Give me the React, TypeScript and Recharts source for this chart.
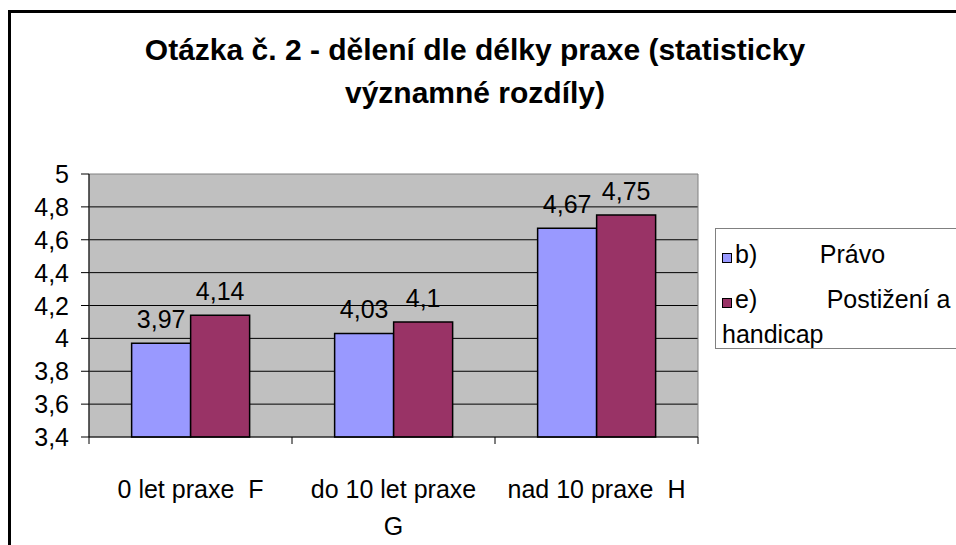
import React from "react"
import { Bar, BarChart, CartesianGrid, LabelList, ReferenceArea, XAxis, YAxis } from "recharts"

const categories = ["0 let praxe  F", "do 10 let praxe  G", "nad 10 praxe  H"]
const pravo = [3.97, 4.03, 4.67]
const postizeni = [4.14, 4.1, 4.75]
const yTicks = [3.4, 3.6, 3.8, 4, 4.2, 4.4, 4.6, 4.8, 5]
const gridValues = [3.6, 3.8, 4, 4.2, 4.4, 4.6, 4.8]
const titleLines = ["Otázka č. 2 - dělení dle délky praxe (statisticky", "významné rozdíly)"]

const series = [
  { key: "pravo", name: "b)         Právo", color: "#9999FF" },
  { key: "postizeni", name: "e)          Postižení a handicap", color: "#993366" },
]

const chartData = categories.map((name, i) => ({
  name,
  pravo: pravo[i],
  postizeni: postizeni[i],
}))

const W = 956
const H = 545
const MARGIN = { top: 174, right: 258, bottom: 0, left: 0 }
const Y_W = 89
const X_H = 108
const BAND = (W - MARGIN.left - MARGIN.right - Y_W) / categories.length
const FONT = "'Liberation Sans', Arial, sans-serif"

const fmt = (v: number) => String(v).replace(".", ",")

// split long labels onto two lines like the original
function wrap(label: string) {
  if (label.length <= 16) return [label]
  const cut = label.lastIndexOf(" ")
  return [label.slice(0, cut).trimEnd(), label.slice(cut + 1)]
}

function CategoryTick(props: any) {
  const { x, y, payload, index } = props
  const half = BAND / 2
  const lines = wrap(payload.value)
  return (
    <g>
      <line x1={x - half} y1={y} x2={x - half} y2={y + 7} stroke="#000" />
      {index === categories.length - 1 && <line x1={x + half} y1={y} x2={x + half} y2={y + 7} stroke="#000" />}
      <text x={x} y={y + 61} textAnchor="middle" fontSize={25} fontFamily={FONT} fill="#000" style={{ whiteSpace: "pre" }}>
        {lines.map((l, i) => (
          <tspan key={i} x={x} dy={i === 0 ? 0 : 37}>
            {l}
          </tspan>
        ))}
      </text>
    </g>
  )
}

function ValueTick(props: any) {
  const { x, y, payload } = props
  return (
    <text x={x} y={y + 9} textAnchor="end" fontSize={25} fontFamily={FONT} fill="#000">
      {fmt(payload.value)}
    </text>
  )
}

export default function App() {
  return (
    <div style={{ position: "fixed", left: 0, top: 0, width: W, height: H, background: "#fff", overflow: "hidden", fontFamily: FONT }}>
      <div style={{ position: "absolute", left: 8, top: 10, width: 1000, height: 600, borderLeft: "3px solid #000", borderTop: "3px solid #000" }} />
      <div style={{ position: "absolute", left: 0, top: 28, width: 950, textAlign: "center", fontWeight: "bold", fontSize: 30, lineHeight: "43px", color: "#000" }}>
        {titleLines.map((t) => (
          <div key={t}>{t}</div>
        ))}
      </div>
      <div style={{ position: "absolute", left: 0, top: 0 }}>
        <BarChart width={W} height={H} data={chartData} margin={MARGIN} barCategoryGap="21%" barGap={0}>
          <CartesianGrid horizontal vertical={false} horizontalValues={gridValues} stroke="#000" fill="#C0C0C0" fillOpacity={1} />
          <ReferenceArea x1={categories[0]} x2={categories[categories.length - 1]} y1={3.4} y2={5} fill="none" stroke="#808080" />
          <YAxis
            width={Y_W}
            domain={[3.4, 5]}
            ticks={yTicks}
            interval={0}
            tickSize={8}
            tickMargin={12}
            axisLine={{ stroke: "#000" }}
            tickLine={{ stroke: "#000" }}
            tick={<ValueTick />}
          />
          <XAxis
            dataKey="name"
            height={X_H}
            interval={0}
            tickSize={0}
            tickMargin={0}
            tickLine={false}
            axisLine={{ stroke: "#000" }}
            tick={<CategoryTick />}
          />
          {series.map((s) => (
            <Bar key={s.key} dataKey={s.key} name={s.name} fill={s.color} stroke="#000" strokeWidth={1.5} isAnimationActive={false}>
              <LabelList dataKey={s.key} position="top" offset={15} formatter={(v: any) => fmt(v)} fill="#000" fontSize={25} fontFamily={FONT} />
            </Bar>
          ))}
        </BarChart>
      </div>
      <div style={{ position: "absolute", left: 715, top: 228, width: 300, height: 119, border: "1px solid #808080", fontSize: 25, color: "#000" }}>
        {series.map((s, i) => (
          <div key={s.key} style={{ position: "absolute", left: 6, top: i === 0 ? 8 : 53, width: 240, lineHeight: "35px", whiteSpace: "pre-wrap" }}>
            <span style={{ display: "inline-block", width: 8, height: 8, marginRight: 3, background: s.color, border: "1.5px solid #000" }} />
            {s.name}
          </div>
        ))}
      </div>
    </div>
  )
}
